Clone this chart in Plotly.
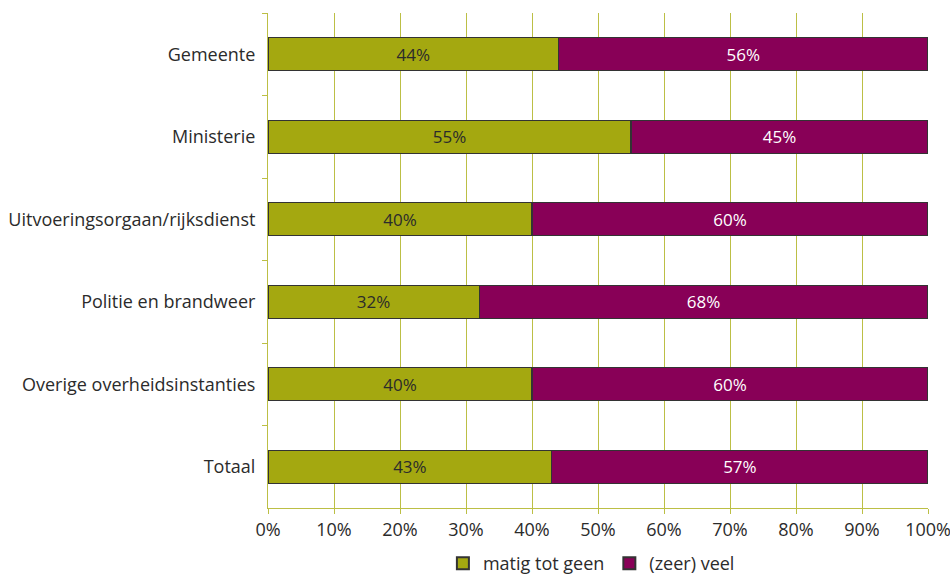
import plotly.graph_objects as go

categories = [
    "Gemeente",
    "Ministerie",
    "Uitvoeringsorgaan/rijksdienst",
    "Politie en brandweer",
    "Overige overheidsinstanties",
    "Totaal",
]
matig_tot_geen = [44, 55, 40, 32, 40, 43]
zeer_veel = [56, 45, 60, 68, 60, 57]
x_ticks = [0, 10, 20, 30, 40, 50, 60, 70, 80, 90, 100]

GREEN = "#a4a810"
PURPLE = "#880057"
AXIS = "#bcbf45"
FONT = "Open Sans, Noto Sans, sans-serif"

fig = go.Figure()
fig.add_trace(go.Bar(
    name="matig tot geen", y=categories, x=matig_tot_geen, orientation="h",
    marker=dict(color=GREEN, line=dict(color="#333333", width=1.2)),
    text=[f"{v}%" for v in matig_tot_geen], textposition="inside",
    insidetextanchor="middle", textfont=dict(color="#2b2b2b", size=17, family=FONT),
    width=0.4,
))
fig.add_trace(go.Bar(
    name="(zeer) veel", y=categories, x=zeer_veel, orientation="h",
    marker=dict(color=PURPLE, line=dict(color="#333333", width=1.2)),
    text=[f"{v}%" for v in zeer_veel], textposition="inside",
    insidetextanchor="middle", textfont=dict(color="white", size=17, family=FONT),
    width=0.4,
))

fig.update_layout(
    barmode="stack",
    width=950, height=575,
    margin=dict(l=268, r=22, t=13, b=67, autoexpand=False),
    plot_bgcolor="white", paper_bgcolor="white",
    font=dict(family=FONT, size=18, color="#2b2b2b"),
    uniformtext=dict(mode="show", minsize=17),
    legend=dict(orientation="h", x=0.49, xanchor="center",
                yref="container", y=0.052, yanchor="top",
                font=dict(size=18), itemwidth=30, traceorder="normal",
                tracegroupgap=0, itemsizing="constant"),
    showlegend=True,
)
fig.update_xaxes(
    range=[0, 100], tickvals=x_ticks, ticktext=[f"{v}%" for v in x_ticks],
    showgrid=True, gridcolor=AXIS, gridwidth=1,
    showline=True, linecolor=AXIS, linewidth=1,
    ticks="outside", ticklen=5, tickcolor=AXIS,
    zeroline=False, fixedrange=True, automargin=False,
    ticklabeloverflow="allow",
)
fig.update_yaxes(
    autorange="reversed", showgrid=False,
    showline=True, linecolor=AXIS, linewidth=1,
    ticks="outside", ticklen=5, tickcolor=AXIS, tickson="boundaries",
    ticklabelstandoff=8, automargin=False,
)

fig.write_html("out.html")
